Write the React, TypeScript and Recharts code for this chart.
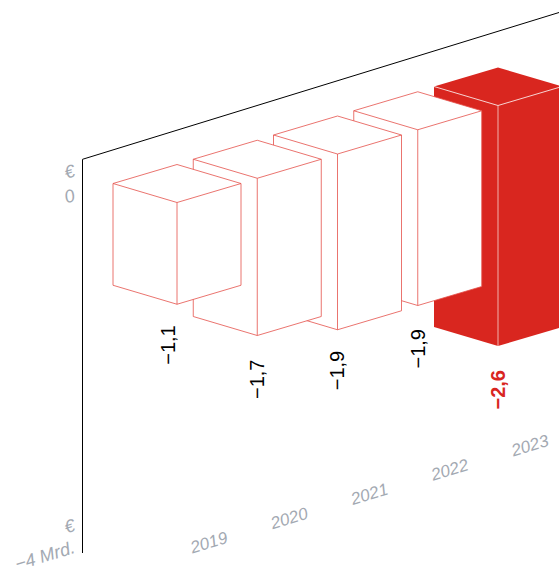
import React from 'react';
import { BarChart, Bar, XAxis, YAxis, LabelList } from 'recharts';

const years = ['2019', '2020', '2021', '2022', '2023'];
const deficits = [-1.1, -1.7, -1.9, -1.9, -2.6];
const yTicks = [0, -4];

// back-to-front paint order: the latest year is drawn first, the axis is reversed to compensate
const rows = years.map((year, i) => ({ year, value: deficits[i] })).reverse();

const RED = '#d9261f';
const GREY = '#a3a9b2';
const LINE_RED = '#e4504a';
const FONT = '"Liberation Sans", Arial, sans-serif';

const HALF_W = 64;
const HALF_D = 19;
const STEP_Y = 24.25; // each year sits further up the sloped wall
const SLOPE = -17;

// hand placement of the value labels, [dx, dy] from the bottom corner, latest year first
const LABEL_NUDGE = [
  [7, 24],
  [7, 23.5],
  [6.5, 21],
  [7, 24],
  [-2, 21],
];

const depthOf = (index: number) => index * STEP_Y;

const Prism = (props: any) => {
  const { x, y, width, height, index } = props;
  const cx = x + width / 2;
  const top = Math.min(y, y + height) + depthOf(index);
  const h = Math.abs(height);
  const highlight = index === 0;
  const left = cx - HALF_W;
  const right = cx + HALF_W;
  const lowSide = top - HALF_D + h;
  const hull = `${left},${top - HALF_D} ${cx},${top - 2 * HALF_D} ${right},${top - HALF_D} ${right},${lowSide} ${cx},${top + h} ${left},${lowSide}`;
  return (
    <g>
      <polygon
        points={hull}
        fill={highlight ? RED : '#fff'}
        stroke={highlight ? 'none' : LINE_RED}
        strokeWidth={0.8}
      />
      <polyline
        points={`${left},${top - HALF_D} ${cx},${top} ${right},${top - HALF_D}`}
        fill="none"
        stroke={highlight ? '#fff' : LINE_RED}
        strokeWidth={0.8}
      />
      <line
        x1={cx}
        y1={top}
        x2={cx}
        y2={top + h}
        stroke={highlight ? '#f6d5d3' : LINE_RED}
        strokeWidth={0.8}
      />
    </g>
  );
};

const ValueLabel = (props: any) => {
  const { x, y, width, height, value, index } = props;
  const cx = x + width / 2;
  const bottom = Math.max(y, y + height) + depthOf(index);
  const highlight = index === 0;
  const [dx, dy] = LABEL_NUDGE[index];
  const tx = cx + dx;
  const ty = bottom + dy;
  const text = String(value).replace('.', ',').replace('-', '−');
  return (
    <text
      x={tx}
      y={ty}
      transform={`rotate(-90 ${tx} ${ty})`}
      textAnchor="end"
      fontFamily={FONT}
      fontSize={20}
      fontWeight={highlight ? 700 : 400}
      fill={highlight ? RED : '#000'}
    >
      {text}
    </text>
  );
};

const YearTick = (props: any) => {
  const { x, y, payload } = props;
  const depth = rows.findIndex((r) => r.year === payload.value) * STEP_Y;
  const tx = x + 33.5;
  const ty = y + depth - 32.5;
  return (
    <text
      x={tx}
      y={ty}
      transform={`rotate(${SLOPE} ${tx} ${ty})`}
      textAnchor="middle"
      fontFamily={FONT}
      fontStyle="italic"
      fontSize={17}
      fill={GREY}
    >
      {payload.value}
    </text>
  );
};

const ValueTick = (props: any) => {
  const { y, payload } = props;
  const isZero = payload.value === 0;
  const tx = 76;
  const unitY = y + (isZero ? 70.5 : 55);
  const numY = y + (isZero ? 95 : 77);
  const text = isZero ? '0' : '−4 Mrd.';
  return (
    <g fontFamily={FONT} fontStyle="italic" fontSize={18} fill={GREY} textAnchor="end">
      <text x={tx} y={unitY} transform={`rotate(${SLOPE} ${tx} ${unitY})`}>
        €
      </text>
      <text x={tx} y={numY} transform={`rotate(${SLOPE} ${tx} ${numY})`}>
        {text}
      </text>
    </g>
  );
};

export default function App() {
  return (
    <div style={{ position: 'absolute', left: 0, top: 0, width: 559, height: 572, overflow: 'hidden' }}>
      <BarChart
        width={559}
        height={572}
        data={rows}
        barCategoryGap={0}
        margin={{ top: 105.5, right: 20.75, bottom: 0, left: 77 }}
      >
        <line x1={82.5} y1={159.3} x2={82.5} y2={553} stroke="#000" strokeWidth={1} />
        <line x1={82.5} y1={159.3} x2={559} y2={12.5} stroke="#000" strokeWidth={1} />
        <XAxis dataKey="year" reversed height={96.5} axisLine={false} tickLine={false} tick={<YearTick />} interval={0} />
        <YAxis width={60} domain={[-4, 0]} ticks={yTicks} axisLine={false} tickLine={false} tick={<ValueTick />} />
        <Bar dataKey="value" isAnimationActive={false} shape={<Prism />}>
          <LabelList dataKey="value" content={<ValueLabel />} />
        </Bar>
      </BarChart>
    </div>
  );
}
